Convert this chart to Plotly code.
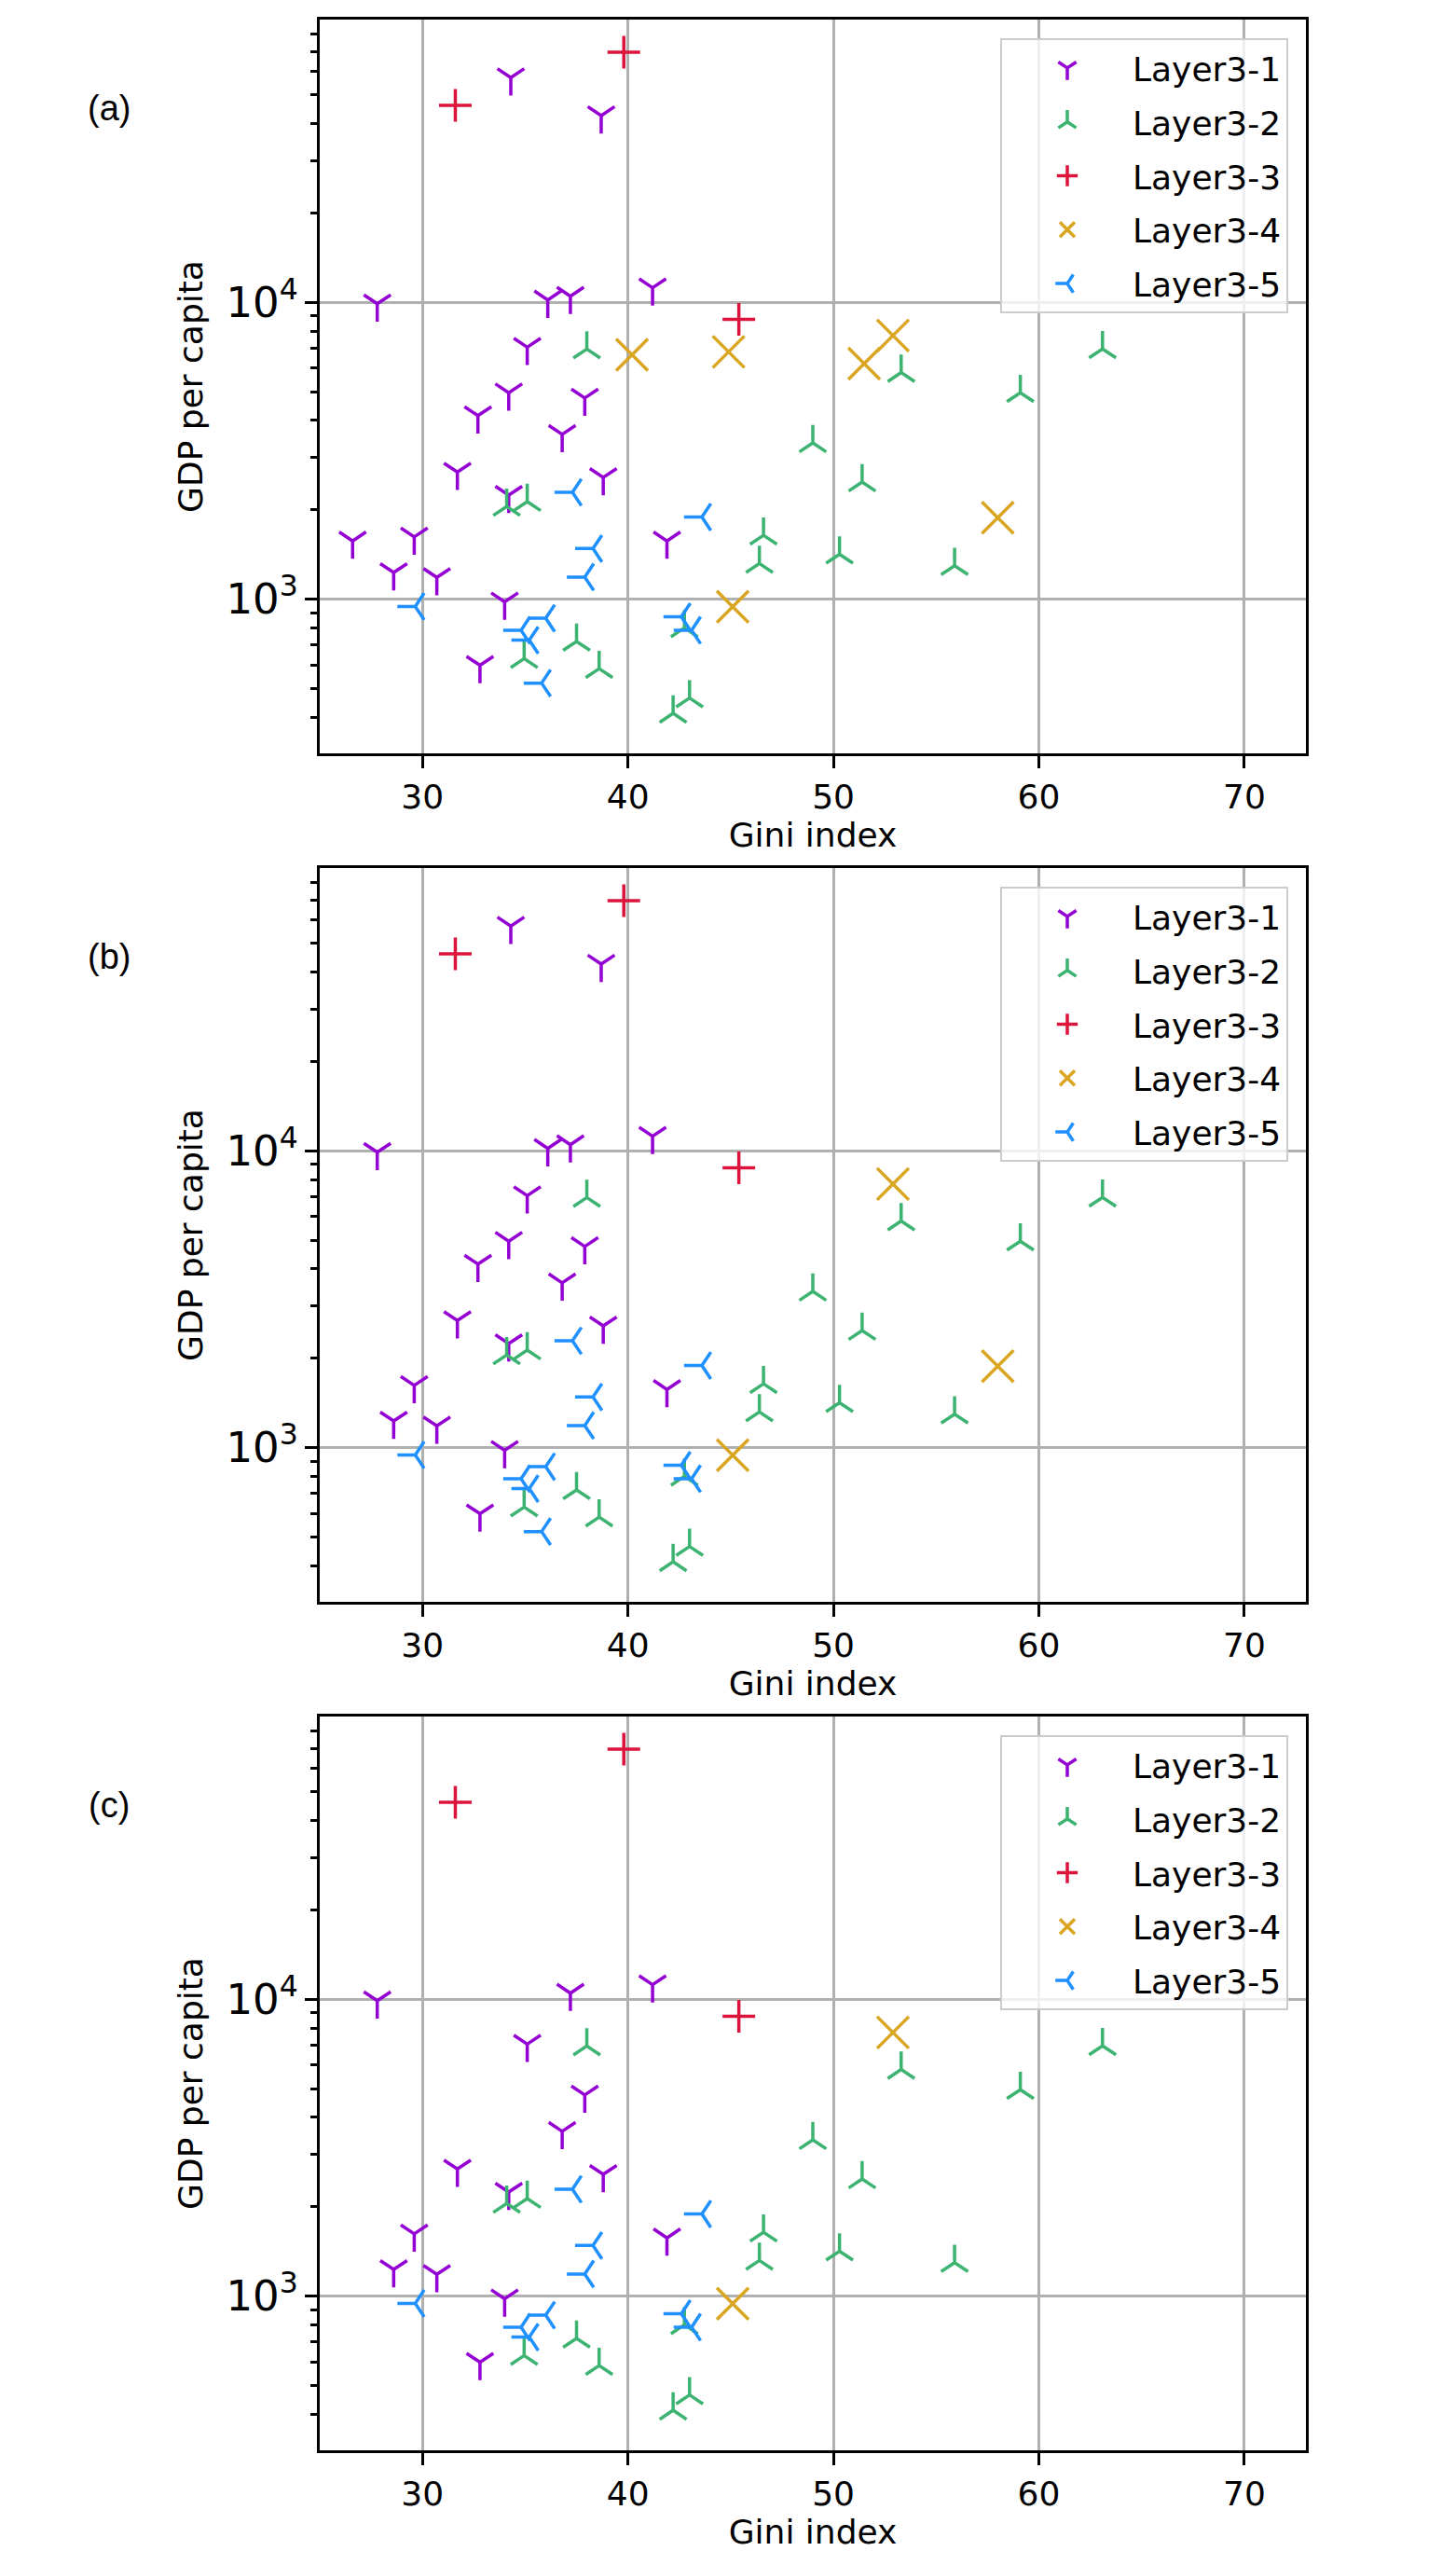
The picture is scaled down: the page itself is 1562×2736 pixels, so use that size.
import plotly.graph_objects as go
from plotly.subplots import make_subplots

# ---------------- data ----------------
# panel membership string per point: which of the panels (a, b, c) show it
L1_gini = [34.3, 38.7, 27.8, 36.1, 37.2, 41.2, 35.1, 34.2, 37.9, 32.7, 36.8,
           31.7, 38.8, 34.2, 26.6, 29.6, 41.9, 28.6, 30.7, 34.0, 32.8]
L1_gdp = [57200, 42600, 9890, 10190, 10490, 11200, 7060, 4960, 4760, 4150, 3590,
          2680, 2570, 2240, 1570, 1620, 1570, 1229, 1183, 979, 598]
L1_panels = ["ab", "ab", "abc", "ab", "abc", "abc", "abc", "ab", "abc", "ab", "abc",
             "abc", "abc", "abc", "a", "abc", "abc", "abc", "abc", "abc", "abc"]

L2_gini = [38.0, 53.3, 59.1, 63.1, 49.0, 51.4, 34.1, 35.1, 46.6, 50.3, 46.4,
           55.9, 42.75, 37.5, 34.95, 38.6, 43.0, 42.2]
L2_gdp = [6960, 5800, 4960, 6970, 3360, 2480, 2050, 2130, 1640, 1416, 1318,
          1296, 800, 720, 630, 583, 464, 412]
L2_panels = ["abc"] * 18

L3_gini = [31.6, 39.8, 45.4]
L3_gdp = [46100, 69700, 8770]
L3_panels = ["abc", "abc", "abc"]

L4_gini = [40.2, 44.9, 51.5, 52.9, 58.0, 45.1]
L4_gdp = [6660, 6810, 6220, 7730, 1880, 942]
L4_panels = ["a", "a", "a", "abc", "ab", "abc"]

L5_gini = [37.3, 43.6, 38.3, 37.9, 29.65, 36.0, 34.8, 35.2, 42.6, 43.1, 35.8]
L5_gdp = [2290, 1890, 1480, 1186, 944, 862, 785, 727, 872, 785, 521]
L5_panels = ["abc"] * 10 + ["ab"]

layer_names = ["Layer3-1", "Layer3-2", "Layer3-3", "Layer3-4", "Layer3-5"]
panel_keys = ["a", "b", "c"]
x_ticks = [30, 40, 50, 60, 70]

# ---------------- styling ----------------
layers = [
    (L1_gini, L1_gdp, L1_panels, "y-down", "#9400D3", 24),
    (L2_gini, L2_gdp, L2_panels, "y-up", "#3CB371", 24),
    (L3_gini, L3_gdp, L3_panels, "cross-thin", "#DC143C", 25),
    (L4_gini, L4_gdp, L4_panels, "x-thin", "#DAA520", 34),
    (L5_gini, L5_gdp, L5_panels, "y-left", "#1E90FF", 24),
]

W, H = 1562, 2736
ML, MR, MT, MB = 335, 169, 13, 116
PH = H - MT - MB
PW = W - ML - MR
panel_tops = [13, 923, 1833]
panel_h = 787

FONT = "DejaVu Sans"
FS = 36

fig = make_subplots(rows=3, cols=1)

legend_names = ["legend", "legend2", "legend3"]
for pi, pk in enumerate(panel_keys):
    for li, (gx, gy, gp, sym, col, sz) in enumerate(layers):
        xs = [x for x, p in zip(gx, gp) if pk in p]
        ys = [y for y, p in zip(gy, gp) if pk in p]
        fig.add_trace(
            go.Scatter(
                x=xs, y=ys, mode="markers", name=layer_names[li],
                legend=legend_names[pi], legendgroup=f"{pk}{li}",
                marker=dict(symbol=sym, size=sz, color=col,
                            line=dict(color=col, width=3.5)),
                showlegend=True,
            ),
            row=pi + 1, col=1,
        )

def ydom(top):
    bottom = top + panel_h
    return [(H - MB - bottom) / PH, (H - MB - top) / PH]

axis_common = dict(
    showline=True, mirror=True, linecolor="black", linewidth=3,
    showgrid=True, gridcolor="#b0b0b0", gridwidth=2.5,
    ticks="outside", ticklen=13, tickwidth=3, tickcolor="black",
    tickfont=dict(family=FONT, size=FS, color="black"),
    zeroline=False, automargin=False,
)

for pi in range(3):
    xa = "xaxis" if pi == 0 else f"xaxis{pi+1}"
    ya = "yaxis" if pi == 0 else f"yaxis{pi+1}"
    fig.layout[xa].update(
        domain=[0, 1], range=[25, 73], tickmode="array", tickvals=x_ticks,
        title=dict(text="Gini index", font=dict(family=FONT, size=FS, color="black"), standoff=8),
        **axis_common,
    )
    fig.layout[ya].update(
        domain=ydom(panel_tops[pi]), type="log", range=[2.48, 4.953],
        dtick=1, exponentformat="power", showexponent="all",
        minor=dict(ticks="outside", ticklen=7, tickwidth=2.5, tickcolor="black",
                   dtick="D1", showgrid=False),
        title=dict(text="GDP per capita", font=dict(family=FONT, size=FS, color="black"), standoff=14),
        **axis_common,
    )
    top = panel_tops[pi]
    leg_y = (H - MB - (top + 20)) / PH
    fig.layout[legend_names[pi]] = dict(
        x=(1374 - ML) / PW, xanchor="right",
        y=leg_y, yanchor="top",
        bgcolor="rgba(255,255,255,0.8)", bordercolor="#cccccc", borderwidth=2,
        font=dict(family=FONT, size=FS, color="black"),
        tracegroupgap=8, itemwidth=130,
    )
    fig.add_annotation(
        text=f"({panel_keys[pi]})", xref="paper", yref="paper",
        x=(109 - ML) / PW, y=(H - MB - (top + 95)) / PH,
        xanchor="center", yanchor="middle", showarrow=False,
        font=dict(family="Liberation Sans", size=38, color="black"),
    )

fig.update_layout(
    width=W, height=H, template="none",
    paper_bgcolor="white", plot_bgcolor="white",
    margin=dict(l=ML, r=MR, t=MT, b=MB, autoexpand=False),
    showlegend=True,
)

fig.write_html("out.html")
